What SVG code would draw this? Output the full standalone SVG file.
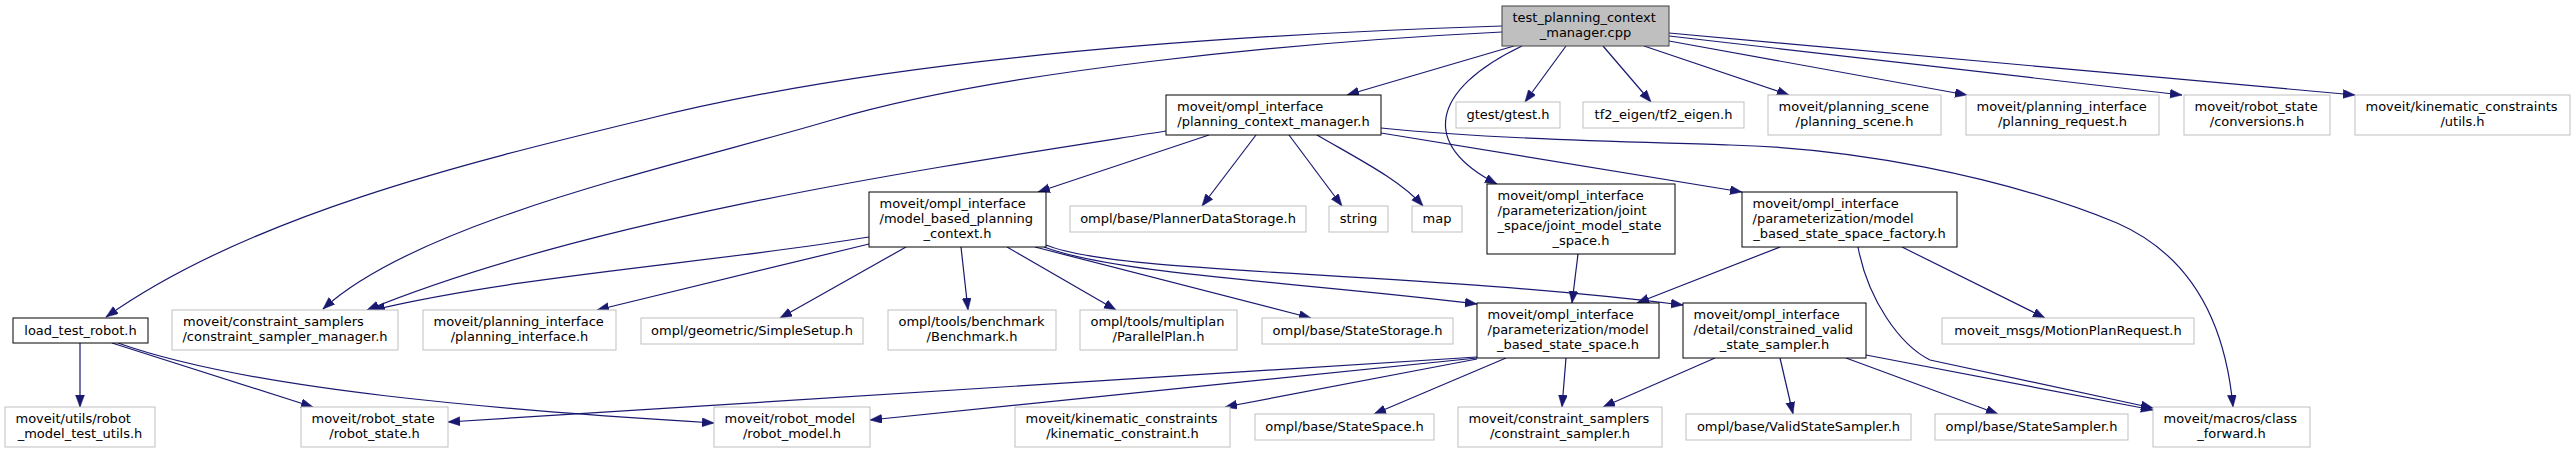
<svg xmlns="http://www.w3.org/2000/svg" width="2576" height="453" viewBox="0 0 2576 453">
<style>
.doc{fill:#ffffff;stroke:#000000;stroke-width:1}
.undoc{fill:#ffffff;stroke:#bfbfbf;stroke-width:1}
.root{fill:#bfbfbf;stroke:#404040;stroke-width:1}
text{font-family:"DejaVu Sans","Liberation Sans",sans-serif;font-size:13px;fill:#000000}
.c{text-anchor:middle}
.e path{fill:none;stroke:#191970;stroke-width:1.2;marker-end:url(#ah)}
</style>
<defs>
<marker id="ah" markerUnits="userSpaceOnUse" markerWidth="13" markerHeight="10" refX="12" refY="4.5" orient="auto">
<path d="M0,0 L12,4.5 L0,9 z" fill="#191970" stroke="#191970" stroke-width="0.5"/>
</marker>
</defs>
<rect x="0" y="0" width="2576" height="453" fill="#ffffff"/>
<g id="edges" class="e">
<path d="M1502,26 C1250,34 900,55 643,120 C470,162 250,215 106,317"/>
<path d="M1502,32 C1300,42 1000,70 832,120 C680,165 420,220 323,309"/>
<path d="M1514,46 L1347,95"/>
<path d="M1522,46 C1430,90 1420,145 1497,184"/>
<path d="M1566,46 L1525,102"/>
<path d="M1603,46 L1651,102"/>
<path d="M1644,46 L1789,95"/>
<path d="M1669,41 L1967,95"/>
<path d="M1669,36 L2182,95"/>
<path d="M1669,33 L2355,95"/>
<path d="M1166,131 C950,165 600,215 367,310"/>
<path d="M1209,135 L1038,192"/>
<path d="M1256,135 L1202,206"/>
<path d="M1289,135 L1342,206"/>
<path d="M1317,135 C1360,160 1400,180 1423,206"/>
<path d="M1381,133 L1742,192"/>
<path d="M1381,128 C1500,140 1650,142 1730,145 C1850,148 2000,175 2117,223 C2190,255 2225,320 2233,407"/>
<path d="M869,237 C720,262 520,275 373,310"/>
<path d="M869,244 L597,310"/>
<path d="M906,247 L780,318"/>
<path d="M961,247 L968,310"/>
<path d="M1007,247 L1116,310"/>
<path d="M1035,247 L1311,318"/>
<path d="M1044,247 C1120,275 1300,282 1477,304"/>
<path d="M1046,245 C1120,275 1400,270 1683,305"/>
<path d="M1578,254 L1572,303"/>
<path d="M1780,247 L1637,303"/>
<path d="M1902,247 L2045,318"/>
<path d="M1858,247 C1868,300 1900,345 1930,360 L2153,408"/>
<path d="M1715,358 L1603,407"/>
<path d="M1780,358 L1793,414"/>
<path d="M1846,358 L1998,414"/>
<path d="M1866,355 L2153,410"/>
<path d="M1477,357 L448,422"/>
<path d="M1477,358 L870,420"/>
<path d="M1477,359 L1225,407"/>
<path d="M1506,358 L1374,414"/>
<path d="M1566,358 L1562,407"/>
<path d="M80,343 L80,407"/>
<path d="M112,343 L313,407"/>
<path d="M118,343 C250,390 500,410 714,423"/>
</g>
<g id="n_root"><rect class="root" x="1502" y="6" width="167" height="40"/><text x="1512.5" y="22">test_planning_context</text><text class="c" x="1585.5" y="37">_manager.cpp</text></g>
<g id="n_pcm"><rect class="doc" x="1166" y="95" width="215" height="40"/><text x="1177" y="111">moveit/ompl_interface</text><text class="c" x="1273.5" y="126">/planning_context_manager.h</text></g>
<g id="n_gtest"><rect class="undoc" x="1456" y="102" width="104" height="26"/><text class="c" x="1508" y="119">gtest/gtest.h</text></g>
<g id="n_tf2"><rect class="undoc" x="1583" y="102" width="161" height="26"/><text class="c" x="1663.5" y="119">tf2_eigen/tf2_eigen.h</text></g>
<g id="n_pscene"><rect class="undoc" x="1768" y="95" width="173" height="40"/><text x="1778.5" y="111">moveit/planning_scene</text><text class="c" x="1854.5" y="126">/planning_scene.h</text></g>
<g id="n_preq"><rect class="undoc" x="1966" y="95" width="193" height="40"/><text x="1976.5" y="111">moveit/planning_interface</text><text class="c" x="2062.5" y="126">/planning_request.h</text></g>
<g id="n_conv"><rect class="undoc" x="2184" y="95" width="146" height="40"/><text x="2194.5" y="111">moveit/robot_state</text><text class="c" x="2257" y="126">/conversions.h</text></g>
<g id="n_kcutils"><rect class="undoc" x="2355" y="95" width="215" height="40"/><text x="2365.5" y="111">moveit/kinematic_constraints</text><text class="c" x="2462.5" y="126">/utils.h</text></g>
<g id="n_mbpc"><rect class="doc" x="869" y="192" width="177" height="55"/><text x="879.5" y="208">moveit/ompl_interface</text><text x="879.5" y="223">/model_based_planning</text><text class="c" x="957.5" y="238">_context.h</text></g>
<g id="n_pds"><rect class="undoc" x="1070" y="206" width="236" height="26"/><text class="c" x="1188" y="223">ompl/base/PlannerDataStorage.h</text></g>
<g id="n_string"><rect class="undoc" x="1329" y="206" width="59" height="26"/><text class="c" x="1358.5" y="223">string</text></g>
<g id="n_map"><rect class="undoc" x="1412" y="206" width="50" height="26"/><text class="c" x="1437" y="223">map</text></g>
<g id="n_jmss"><rect class="doc" x="1487" y="184" width="188" height="70"/><text x="1497.5" y="200">moveit/ompl_interface</text><text x="1497.5" y="215">/parameterization/joint</text><text x="1497.5" y="230">_space/joint_model_state</text><text class="c" x="1581" y="245">_space.h</text></g>
<g id="n_factory"><rect class="doc" x="1742" y="192" width="215" height="55"/><text x="1752.5" y="208">moveit/ompl_interface</text><text x="1752.5" y="223">/parameterization/model</text><text class="c" x="1849.5" y="238">_based_state_space_factory.h</text></g>
<g id="n_ltr"><rect class="doc" x="13" y="318" width="135" height="25"/><text class="c" x="80.5" y="335">load_test_robot.h</text></g>
<g id="n_csm"><rect class="undoc" x="172" y="310" width="226" height="40"/><text x="183" y="326">moveit/constraint_samplers</text><text class="c" x="285" y="341">/constraint_sampler_manager.h</text></g>
<g id="n_pi"><rect class="undoc" x="423" y="310" width="193" height="40"/><text x="433.5" y="326">moveit/planning_interface</text><text class="c" x="519.5" y="341">/planning_interface.h</text></g>
<g id="n_ss"><rect class="undoc" x="641" y="318" width="222" height="26"/><text class="c" x="752" y="335">ompl/geometric/SimpleSetup.h</text></g>
<g id="n_bench"><rect class="undoc" x="888" y="310" width="168" height="40"/><text x="898.5" y="326">ompl/tools/benchmark</text><text class="c" x="972" y="341">/Benchmark.h</text></g>
<g id="n_pp"><rect class="undoc" x="1080" y="310" width="157" height="40"/><text x="1090.5" y="326">ompl/tools/multiplan</text><text class="c" x="1158.5" y="341">/ParallelPlan.h</text></g>
<g id="n_sst"><rect class="undoc" x="1262" y="318" width="191" height="26"/><text class="c" x="1357.5" y="335">ompl/base/StateStorage.h</text></g>
<g id="n_mbss"><rect class="doc" x="1477" y="303" width="182" height="55"/><text x="1487.5" y="319">moveit/ompl_interface</text><text x="1487.5" y="334">/parameterization/model</text><text class="c" x="1568" y="349">_based_state_space.h</text></g>
<g id="n_cvss"><rect class="doc" x="1683" y="303" width="183" height="55"/><text x="1693.5" y="319">moveit/ompl_interface</text><text x="1693.5" y="334">/detail/constrained_valid</text><text class="c" x="1774.5" y="349">_state_sampler.h</text></g>
<g id="n_mpr"><rect class="undoc" x="1942" y="318" width="252" height="26"/><text class="c" x="2068" y="335">moveit_msgs/MotionPlanRequest.h</text></g>
<g id="n_rmtu"><rect class="undoc" x="5" y="407" width="150" height="40"/><text x="15.5" y="423">moveit/utils/robot</text><text class="c" x="80" y="438">_model_test_utils.h</text></g>
<g id="n_rstate"><rect class="undoc" x="301" y="407" width="147" height="40"/><text x="311.5" y="423">moveit/robot_state</text><text class="c" x="374.5" y="438">/robot_state.h</text></g>
<g id="n_rmodel"><rect class="undoc" x="714" y="407" width="156" height="40"/><text x="724.5" y="423">moveit/robot_model</text><text class="c" x="792" y="438">/robot_model.h</text></g>
<g id="n_kc"><rect class="undoc" x="1015" y="407" width="215" height="40"/><text x="1025.5" y="423">moveit/kinematic_constraints</text><text class="c" x="1122.5" y="438">/kinematic_constraint.h</text></g>
<g id="n_sspace"><rect class="undoc" x="1255" y="414" width="179" height="26"/><text class="c" x="1344.5" y="431">ompl/base/StateSpace.h</text></g>
<g id="n_cs"><rect class="undoc" x="1458" y="407" width="204" height="40"/><text x="1468.5" y="423">moveit/constraint_samplers</text><text class="c" x="1560" y="438">/constraint_sampler.h</text></g>
<g id="n_vss"><rect class="undoc" x="1686" y="414" width="225" height="26"/><text class="c" x="1798.5" y="431">ompl/base/ValidStateSampler.h</text></g>
<g id="n_ssam"><rect class="undoc" x="1935" y="414" width="193" height="26"/><text class="c" x="2031.5" y="431">ompl/base/StateSampler.h</text></g>
<g id="n_cf"><rect class="undoc" x="2153" y="407" width="157" height="40"/><text x="2163.5" y="423">moveit/macros/class</text><text class="c" x="2231.5" y="438">_forward.h</text></g>
</svg>
